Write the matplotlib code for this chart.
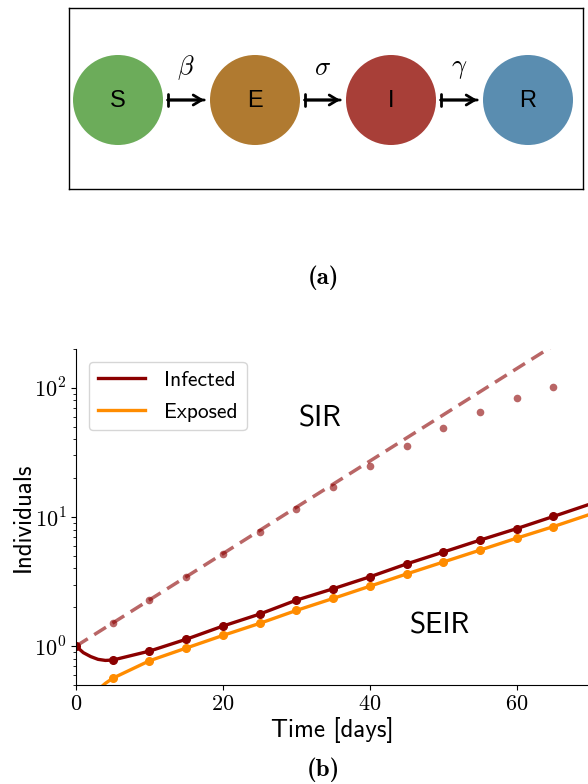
import math

import matplotlib
matplotlib.use('Agg')
import matplotlib.pyplot as plt
from matplotlib.patches import Circle, FancyArrowPatch
from matplotlib.lines import Line2D
from matplotlib.ticker import FuncFormatter, LogLocator

plt.rcParams['mathtext.fontset'] = 'cm'
plt.rcParams['axes.formatter.use_mathtext'] = True

# compartment diagram
states = ['S', 'E', 'I', 'R']
state_colors = ['#6cac5a', '#b07a30', '#a83f38', '#5a8db0']
rates = [r'$\beta$', r'$\sigma$', r'$\gamma$']

# SIR model (dashed line and dots)
sir_line_days = [0, 10, 20, 30, 40, 50, 60, 70]
sir_line = [1.0, 2.28, 5.2, 11.9, 27.1, 61.8, 141, 321]
sir_dot_days = [5, 10, 15, 20, 25, 30, 35, 40, 45, 50, 55, 60, 65]
sir_dots = [1.50, 2.26, 3.41, 5.13, 7.71, 11.5, 17.0, 24.7, 35.2, 48.6, 65.4, 83.8, 102]

# SEIR model
seir_days = [0, 1, 2, 3, 4, 5, 10, 15, 20, 25, 30, 35, 40, 45, 50, 55, 60, 65, 70]
infected = [1.0, 0.89, 0.83, 0.79, 0.775, 0.78, 0.915, 1.13, 1.43, 1.77, 2.27,
            2.78, 3.44, 4.33, 5.35, 6.62, 8.13, 10.1, 12.6]
exposed_days = [2, 3, 4, 5, 10, 15, 20, 25, 30, 35, 40, 45, 50, 55, 60, 65, 70]
exposed = [0.36, 0.46, 0.515, 0.564, 0.77, 0.966, 1.21, 1.50, 1.89, 2.34, 2.91,
           3.62, 4.48, 5.54, 6.86, 8.43, 10.5]
dot_days = [5, 10, 15, 20, 25, 30, 35, 40, 45, 50, 55, 60, 65]

fig = plt.figure(figsize=(5.88, 7.84), dpi=100)

# ---- (a) diagram, drawn in pixel units of the box ----
ax0 = fig.add_axes([69 / 588, 1 - 189 / 784, 514 / 588, 181 / 784])
ax0.set_xlim(69, 583)
ax0.set_ylim(189, 8)
ax0.set_xticks([])
ax0.set_yticks([])
for s in ax0.spines.values():
    s.set_linewidth(1.0)
cx = [118, 255, 391, 528]
cy = 100
r = 45
for x, name, c in zip(cx, states, state_colors):
    ax0.add_patch(Circle((x, cy), r, color=c, lw=0))
    ax0.text(x, cy + 1, name, ha='center', va='center', fontsize=17,
             family='Liberation Sans')
for i, lab in enumerate(rates):
    x0 = cx[i] + r + 2
    x1 = cx[i + 1] - r - 3
    ax0.add_patch(FancyArrowPatch((x0, cy), (x1, cy), arrowstyle='|-|,widthA=0.35,widthB=0',
                                  lw=2, color='black', mutation_scale=12))
    ax0.add_patch(FancyArrowPatch((x0, cy), (x1, cy), arrowstyle='->,head_length=0.5,head_width=0.3',
                                  lw=2, color='black', mutation_scale=12))
    ax0.text((x0 + x1) / 2, 68, lab, ha='center', va='center', fontsize=19)

fig.text(323 / 588, 1 - 278 / 784, '(a)', ha='center', va='center',
         fontsize=18, family='cmb10')

# ---- (b) time series ----
ax = fig.add_axes([76 / 588, 1 - 685 / 784, 1 - 76 / 588, 336 / 784])
sir_c = '#8b0000'
ax.plot(sir_line_days, sir_line, ls='--', color=sir_c, alpha=0.6, lw=2.5,
        dashes=(4, 2.2))
ax.plot(sir_dot_days, sir_dots, 'o', color=sir_c, alpha=0.6, ms=5.5, mew=0)
ax.plot(seir_days, infected, color='darkred', lw=2.4,
        marker='o', ms=5.5, markevery=[0] + [seir_days.index(d) for d in dot_days])
ax.plot(exposed_days, exposed, color='darkorange', lw=2.4,
        marker='o', ms=5.5, markevery=[exposed_days.index(d) for d in dot_days])

ax.set_yscale('log')
ax.set_ylim(0.5, 200)
ax.set_xlim(0, 69.7)
ax.set_xticks([0, 20, 40, 60])
ax.yaxis.set_major_locator(LogLocator(base=10))
ax.yaxis.set_major_formatter(FuncFormatter(lambda v, p: r'$10^{%d}$' % round(math.log10(v))))
ax.spines['top'].set_visible(False)
ax.spines['right'].set_visible(False)
for lab in ax.get_xticklabels():
    lab.set_family('cmr10')
ax.tick_params(labelsize=16)
ax.set_xlabel('Time [days]', family='cmss10', fontsize=18, labelpad=2)
ax.set_ylabel('Individuals', family='cmss10', fontsize=18)
ax.yaxis.set_label_coords(-0.08, 0.5)

ax.text(33.2, 57, 'SIR', family='cmss10', fontsize=21, ha='center', va='center')
ax.text(49.5, 1.43, 'SEIR', family='cmss10', fontsize=21, ha='center', va='center')

handles = [Line2D([], [], color='darkred', lw=2.4),
           Line2D([], [], color='darkorange', lw=2.4)]
ax.legend(handles, ['Infected', 'Exposed'], loc='upper left',
          prop={'family': 'cmss10', 'size': 15.5}, handlelength=2.2,
          handletextpad=0.9, labelspacing=0.6, borderaxespad=0.6, fancybox=True)

fig.text(323 / 588, 1 - 770 / 784, '(b)', ha='center', va='center',
         fontsize=18, family='cmb10')

fig.savefig('out.png', dpi=100)
